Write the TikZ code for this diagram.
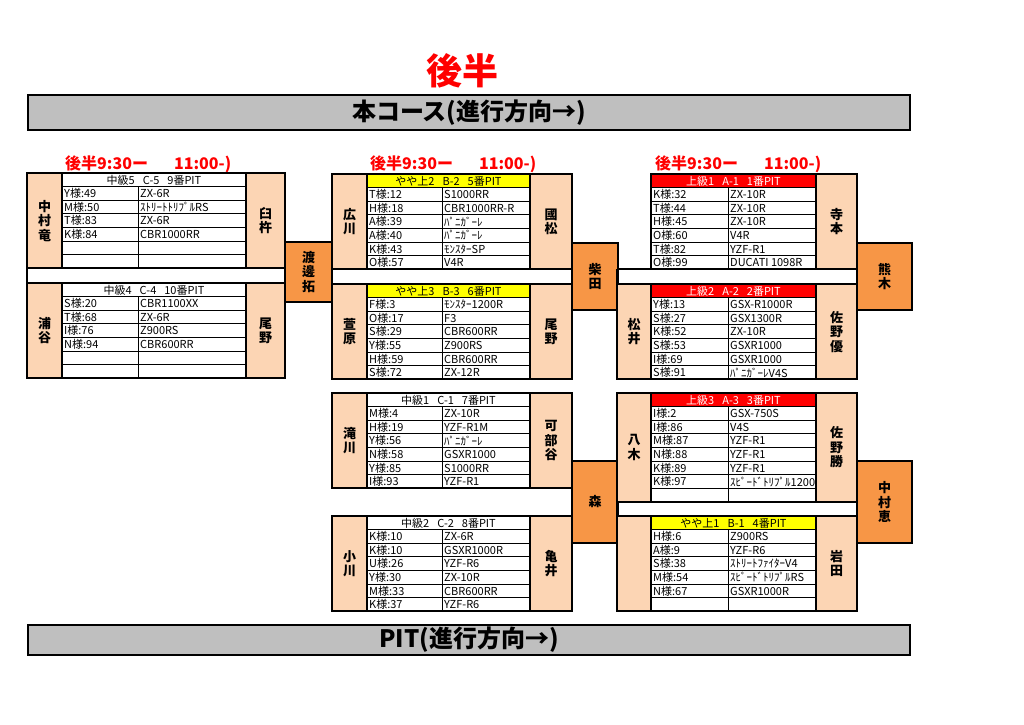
\documentclass[tikz,border=0pt]{standalone}
\usepackage{fontspec}
\setmainfont{Noto Sans CJK JP}
\definecolor{peach}{HTML}{FCD5B4}
\definecolor{orng}{HTML}{F79646}
\definecolor{bannergray}{HTML}{BFBFBF}
\definecolor{hdrred}{HTML}{FF0000}
\definecolor{hdryel}{HTML}{FFFF00}
\tikzset{
  thickline/.style={line width=1.8pt},
  thinline/.style={line width=0.8pt},
  namebox/.style={fill=peach, draw=black, line width=1.8pt, font=\bfseries\fontsize{13}{14.5}\selectfont, align=center, inner sep=0pt},
  orangebox/.style={fill=orng, draw=black, line width=1.8pt, font=\bfseries\fontsize{13}{14.5}\selectfont, align=center, inner sep=0pt},
  cell/.style={font=\fontsize{11}{12}\selectfont, anchor=west, inner sep=0pt},
  hdr/.style={font=\fontsize{11}{12}\selectfont, inner sep=0pt},
  timelbl/.style={font=\bfseries\fontsize{16}{18}\selectfont, text=red, anchor=west, inner sep=0pt},
  banner/.style={fill=bannergray, draw=black, line width=2.2pt, font=\bfseries\fontsize{24}{26}\selectfont, inner sep=0pt},
  titlelbl/.style={font=\bfseries\fontsize{36}{40}\selectfont, text=red, inner sep=0pt},
}
% table: prefix, T1, D, T2, y0, rows, header fill, header text opts, header text
\newcommand\tbl[9]{%
  \fill[#7] (#2,#5) rectangle (#4,{#5+13.6});
  \foreach \i in {1,...,#6}{\draw[thinline] (#2,{#5+\i*13.6}) -- (#4,{#5+\i*13.6});}
  \draw[thinline] (#3,{#5+13.6}) -- (#3,{#5+(#6)*13.6});
  \node[hdr,#8] (#1-h) at ({(#2+#4)/2},{#5+7}) {#9};
  \draw[thickline] (#2,#5) rectangle (#4,{#5+(#6)*13.6});
}
% rows: prefix, T1, D, y0, list
\newcommand\rws[5]{%
  \foreach \a/\b [count=\k] in {#5}{%
    \node[cell] (#1-l\k) at ({#2+2},{#4+13.6*\k+7}) {\a};
    \node[cell] (#1-r\k) at ({#3+2},{#4+13.6*\k+7}) {\b};
  }%
}
% box: name, x1, y1, x2, y2, style, text
\newcommand\nbox[7]{%
  \node[#6, minimum width={(#4-#2)*1pt}, minimum height={(#5-#3)*1pt}] (#1) at ({(#2+#4)/2},{(#3+#5)/2}) {#7};
}
\begin{document}
\begin{tikzpicture}[x=1pt,y=-1pt]
\useasboundingbox (0,0) rectangle (1024,724);
\node[titlelbl] (title) at (462,71) {後半};
\node[banner, minimum width=882pt, minimum height=35pt] (course) at (469,112.5) {本コース(進行方向→)};
\node[banner, minimum width=882pt, minimum height=30pt] (pit) at (469,640) {PIT(進行方向→)};

\node[timelbl] (tL) at (65,164) {後半9:30ー\hspace{26pt}11:00-)};
\node[timelbl] (tM) at (370,164) {後半9:30ー\hspace{26pt}11:00-)};
\node[timelbl] (tR) at (655,164) {後半9:30ー\hspace{26pt}11:00-)};

% ---------- left group ----------
\nbox{oWat}{285}{242}{332}{302}{orangebox}{渡\\邊\\拓}
\draw[thickline] (27,268.2) -- (27,283) (285,268.2) -- (285,283);
\tbl{LA}{62}{138}{246}{173}{7}{white}{}{中級5\hspace{8pt}C-5\hspace{8pt}9番PIT}
\rws{LA}{62}{138}{173}{Y様:49/ZX-6R, M様:50/ｽﾄﾘｰﾄﾄﾘﾌﾟﾙRS, T様:83/ZX-6R, K様:84/CBR1000RR}
\nbox{nLA1}{27}{173}{62}{268.2}{namebox}{中\\村\\竜}
\nbox{nLA2}{246}{173}{285}{268.2}{namebox}{臼\\杵}
\tbl{LB}{62}{138}{246}{283}{7}{white}{}{中級4\hspace{8pt}C-4\hspace{8pt}10番PIT}
\rws{LB}{62}{138}{283}{S様:20/CBR1100XX, T様:68/ZX-6R, I様:76/Z900RS, N様:94/CBR600RR}
\nbox{nLB1}{27}{283}{62}{378.2}{namebox}{浦\\谷}
\nbox{nLB2}{246}{283}{285}{378.2}{namebox}{尾\\野}

% ---------- middle group ----------
\nbox{oShi}{572}{243}{618}{310}{orangebox}{柴\\田}
\nbox{oMor}{572}{461}{618}{543}{orangebox}{森}
\draw[thickline] (332,269.2) -- (332,284) (572,269.2) -- (572,284);
\tbl{MA}{367}{442}{530}{174}{7}{hdryel}{}{やや上2\hspace{8pt}B-2\hspace{8pt}5番PIT}
\rws{MA}{367}{442}{174}{T様:12/S1000RR, H様:18/CBR1000RR-R, A様:39/ﾊﾟﾆｶﾞｰﾚ, A様:40/ﾊﾟﾆｶﾞｰﾚ, K様:43/ﾓﾝｽﾀｰSP, O様:57/V4R}
\nbox{nMA1}{332}{174}{367}{269.2}{namebox}{広\\川}
\nbox{nMA2}{530}{174}{572}{269.2}{namebox}{國\\松}
\tbl{MB}{367}{442}{530}{284}{7}{hdryel}{}{やや上3\hspace{8pt}B-3\hspace{8pt}6番PIT}
\rws{MB}{367}{442}{284}{F様:3/ﾓﾝｽﾀｰ1200R, O様:17/F3, S様:29/CBR600RR, Y様:55/Z900RS, H様:59/CBR600RR, S様:72/ZX-12R}
\nbox{nMB1}{332}{284}{367}{379.2}{namebox}{萱\\原}
\nbox{nMB2}{530}{284}{572}{379.2}{namebox}{尾\\野}
\tbl{MC}{367}{442}{530}{393}{7}{white}{}{中級1\hspace{8pt}C-1\hspace{8pt}7番PIT}
\rws{MC}{367}{442}{393}{M様:4/ZX-10R, H様:19/YZF-R1M, Y様:56/ﾊﾟﾆｶﾞｰﾚ, N様:58/GSXR1000, Y様:85/S1000RR, I様:93/YZF-R1}
\nbox{nMC1}{332}{393}{367}{488.2}{namebox}{滝\\川}
\nbox{nMC2}{530}{393}{572}{488.2}{namebox}{可\\部\\谷}
\tbl{MD}{367}{442}{530}{516}{7}{white}{}{中級2\hspace{8pt}C-2\hspace{8pt}8番PIT}
\rws{MD}{367}{442}{516}{K様:10/ZX-6R, K様:10/GSXR1000R, U様:26/YZF-R6, Y様:30/ZX-10R, M様:33/CBR600RR, K様:37/YZF-R6}
\nbox{nMD1}{332}{516}{367}{611.2}{namebox}{小\\川}
\nbox{nMD2}{530}{516}{572}{611.2}{namebox}{亀\\井}

% ---------- right group ----------
\nbox{oKum}{857}{243}{912}{310}{orangebox}{熊\\木}
\nbox{oNak}{857}{461}{912}{543}{orangebox}{中\\村\\恵}
\draw[thickline] (617,269.2) -- (651,269.2) (617,269.2) -- (617,284) (857,269.2) -- (857,284);
\draw[thickline] (617,501.8) -- (617,516) (857,501.8) -- (857,516);
\tbl{RA}{651}{728}{816}{174}{7}{hdrred}{text=white}{上級1\hspace{8pt}A-1\hspace{8pt}1番PIT}
\rws{RA}{651}{728}{174}{K様:32/ZX-10R, T様:44/ZX-10R, H様:45/ZX-10R, O様:60/V4R, T様:82/YZF-R1, O様:99/DUCATI 1098R}
\nbox{nRA2}{816}{174}{857}{269.2}{namebox}{寺\\本}
\tbl{RB}{651}{728}{816}{284}{7}{hdrred}{text=white}{上級2\hspace{8pt}A-2\hspace{8pt}2番PIT}
\rws{RB}{651}{728}{284}{Y様:13/GSX-R1000R, S様:27/GSX1300R, K様:52/ZX-10R, S様:53/GSXR1000, I様:69/GSXR1000, S様:91/ﾊﾟﾆｶﾞｰﾚV4S}
\nbox{nRB1}{617}{284}{651}{379.2}{namebox}{松\\井}
\nbox{nRB2}{816}{284}{857}{379.2}{namebox}{佐\\野\\優}
\tbl{RC}{651}{728}{816}{393}{8}{hdrred}{text=white}{上級3\hspace{8pt}A-3\hspace{8pt}3番PIT}
\rws{RC}{651}{728}{393}{I様:2/GSX-750S, I様:86/V4S, M様:87/YZF-R1, N様:88/YZF-R1, K様:89/YZF-R1, K様:97/ｽﾋﾟｰﾄﾞﾄﾘﾌﾟﾙ1200}
\nbox{nRC1}{617}{393}{651}{501.8}{namebox}{八\\木}
\nbox{nRC2}{816}{393}{857}{501.8}{namebox}{佐\\野\\勝}
\tbl{RD}{651}{728}{816}{516}{7}{hdryel}{}{やや上1\hspace{8pt}B-1\hspace{8pt}4番PIT}
\rws{RD}{651}{728}{516}{H様:6/Z900RS, A様:9/YZF-R6, S様:38/ｽﾄﾘｰﾄﾌｧｲﾀｰV4, M様:54/ｽﾋﾟｰﾄﾞﾄﾘﾌﾟﾙRS, N様:67/GSXR1000R}
\nbox{nRD1}{617}{516}{651}{611.2}{namebox}{}
\nbox{nRD2}{816}{516}{857}{611.2}{namebox}{岩\\田}
\end{tikzpicture}
\end{document}
